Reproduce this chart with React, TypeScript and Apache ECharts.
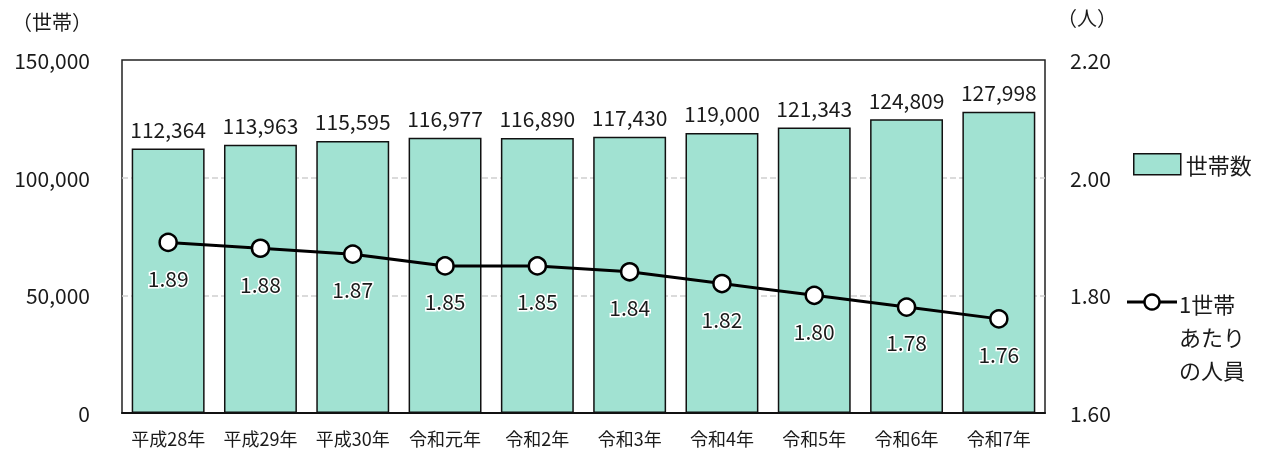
import React, { useEffect, useRef } from "react";
import * as echarts from "echarts";

const categories = ["平成28年", "平成29年", "平成30年", "令和元年", "令和2年", "令和3年", "令和4年", "令和5年", "令和6年", "令和7年"];
const households = [112364, 113963, 115595, 116977, 116890, 117430, 119000, 121343, 124809, 127998];
const perHousehold = [1.89, 1.88, 1.87, 1.85, 1.85, 1.84, 1.82, 1.8, 1.78, 1.76];
const barName = "世帯数";
const lineName = "1世帯あたりの人員";
const lineLegendLabel = "1世帯\nあたり\nの人員";
const leftUnit = "（世帯）";
const rightUnit = "（人）";

const FONT = "'Noto Sans CJK JP', 'Noto Sans', sans-serif";
const INK = "#1a1a1a";

export default function App() {
  const ref = useRef<HTMLDivElement>(null);
  useEffect(() => {
    if (!ref.current) return;
    const chart = echarts.init(ref.current, null, { renderer: "svg" });
    chart.setOption({
      animation: false,
      textStyle: { fontFamily: FONT, color: INK },
      grid: { left: 122, right: 217, top: 60, bottom: 40, show: true, borderColor: "#222", borderWidth: 1.5, backgroundColor: "transparent" },
      legend: [
        {
          data: [{ name: barName, icon: "rect" }],
          left: 1128,
          top: 148,
          itemWidth: 47,
          itemHeight: 21,
          itemGap: 4,
          itemStyle: { borderColor: "#111", borderWidth: 1.5 },
          textStyle: { fontSize: 22, fontFamily: FONT, color: INK },
        },
      ],
      graphic: [
        { type: "text", left: 12, top: 11, style: { text: leftUnit, fontSize: 20, fontFamily: FONT, fill: INK } },
        { type: "text", left: 1057, top: 7, style: { text: rightUnit, fontSize: 20, fontFamily: FONT, fill: INK } },
        { type: "line", shape: { x1: 1127, y1: 302, x2: 1177, y2: 302 }, style: { stroke: "#000", lineWidth: 3 } },
        { type: "circle", shape: { cx: 1152, cy: 302, r: 7.5 }, style: { fill: "#fff", stroke: "#000", lineWidth: 2.5 } },
        {
          type: "text",
          left: 1179,
          top: 286,
          style: { text: lineLegendLabel, fontSize: 22, lineHeight: 33, fontFamily: FONT, fill: INK },
        },
      ],
      xAxis: {
        type: "category",
        data: categories,
        axisLine: { lineStyle: { color: "#111", width: 2 } },
        axisTick: { show: false },
        axisLabel: { interval: 0, hideOverlap: false, fontSize: 18, color: INK, margin: 16, fontFamily: FONT },
      },
      yAxis: [
        {
          type: "value",
          min: 0,
          max: 150000,
          interval: 50000,
          axisLine: { show: false },
          axisTick: { show: false },
          axisLabel: {
            fontSize: 21,
            color: INK,
            margin: 32,
            fontFamily: FONT,
            formatter: (v: number) => v.toLocaleString("en-US"),
          },
          splitLine: { showMaxLine: false, showMinLine: false, lineStyle: { color: "#d0d0d0", type: [6, 3], width: 1.5 } },
        },
        {
          type: "value",
          min: 1.6,
          max: 2.2,
          interval: 0.2,
          axisLine: { show: false },
          axisTick: { show: false },
          splitLine: { show: false },
          axisLabel: {
            fontSize: 21,
            color: INK,
            margin: 25,
            fontFamily: FONT,
            formatter: (v: number) => v.toFixed(2),
          },
        },
      ],
      series: [
        {
          name: barName,
          type: "bar",
          data: households,
          barCategoryGap: "21%",
          itemStyle: { color: "#a1e2d2", borderColor: "#111", borderWidth: 1.5 },
          label: {
            show: true,
            position: "top",
            distance: 9,
            fontSize: 21,
            color: INK,
            fontFamily: FONT,
            formatter: (p: any) => Number(p.value).toLocaleString("en-US"),
          },
        },
        {
          name: lineName,
          type: "line",
          yAxisIndex: 1,
          data: perHousehold,
          symbol: "circle",
          symbolSize: 17,
          lineStyle: { color: "#000", width: 3 },
          itemStyle: { color: "#fff", borderColor: "#000", borderWidth: 2.5 },
          label: {
            show: true,
            position: "bottom",
            distance: 15,
            fontSize: 21,
            color: INK,
            fontFamily: FONT,
            textBorderColor: "#fff",
            textBorderWidth: 3,
            formatter: (p: any) => Number(p.value).toFixed(2),
          },
        },
      ],
    });
    return () => chart.dispose();
  }, []);
  return <div ref={ref} style={{ position: "fixed", left: 0, top: 0, width: 1262, height: 453 }} />;
}
